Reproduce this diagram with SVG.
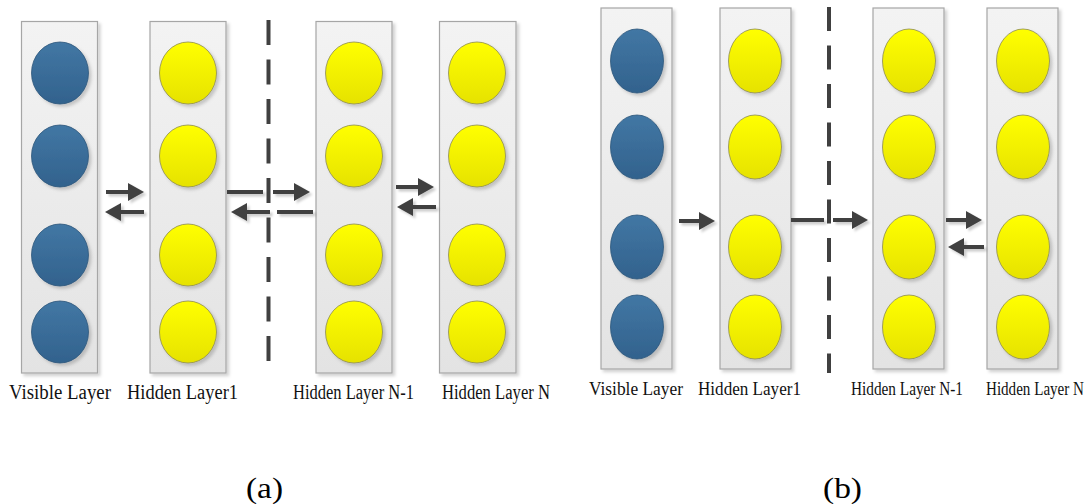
<svg xmlns="http://www.w3.org/2000/svg" width="1092" height="504" viewBox="0 0 1092 504">
  <defs>
    <linearGradient id="gBox" x1="0" y1="0" x2="0" y2="1">
      <stop offset="0" stop-color="#f3f3f3"/>
      <stop offset="1" stop-color="#e3e3e3"/>
    </linearGradient>
    <linearGradient id="gBlue" x1="0" y1="0" x2="0" y2="1">
      <stop offset="0" stop-color="#4277a4"/>
      <stop offset="1" stop-color="#32628d"/>
    </linearGradient>
    <linearGradient id="gYellow" x1="0" y1="0" x2="0" y2="1">
      <stop offset="0" stop-color="#ffff00"/>
      <stop offset="1" stop-color="#e6e200"/>
    </linearGradient>
    <filter id="sh" x="-20%" y="-20%" width="150%" height="150%">
      <feDropShadow dx="2.5" dy="2.5" stdDeviation="1.5" flood-color="#000" flood-opacity="0.18"/>
    </filter>
    <filter id="shl" filterUnits="userSpaceOnUse" x="0" y="0" width="1092" height="504">
      <feDropShadow dx="2.5" dy="2.5" stdDeviation="1.2" flood-color="#000" flood-opacity="0.2"/>
    </filter>
    <marker id="ah" markerUnits="userSpaceOnUse" markerWidth="17" markerHeight="19" refX="3" refY="9" orient="auto">
      <path d="M0,0 L16,9 L0,18 Z" fill="#404040"/>
    </marker>
  </defs>
  <style>
    .box { fill: url(#gBox); stroke: #a6a6a6; stroke-width: 1.2; filter: url(#sh); }
    .blue { fill: url(#gBlue); stroke: #2c557a; stroke-width: 0.8; filter: url(#sh); }
    .yel { fill: url(#gYellow); stroke: #8c8a55; stroke-width: 0.8; filter: url(#sh); }
    .lbl { font-family: "Liberation Serif", "Times New Roman", serif; font-size: 20px; fill: #111; }
    .lblb { font-family: "Liberation Serif", "Times New Roman", serif; font-size: 19px; fill: #111; }
    .cap { font-family: "Liberation Serif", "Times New Roman", serif; font-size: 30px; fill: #000; }
    .ar { stroke: #404040; stroke-width: 4; fill: none; }
    .arm { marker-end: url(#ah); }
    .dash { stroke: #404040; stroke-width: 4; fill: none; }
  </style>

  <rect width="1092" height="504" fill="#ffffff"/>

  <!-- ===== Panel (a) ===== -->
  <g id="a-visible">
    <rect class="box" x="21.5" y="21.5" width="76" height="351.5"/>
    <ellipse class="blue" cx="60" cy="73" rx="28.5" ry="31"/>
    <ellipse class="blue" cx="60" cy="156" rx="28.5" ry="31"/>
    <ellipse class="blue" cx="60" cy="255" rx="28.5" ry="31"/>
    <ellipse class="blue" cx="60" cy="332" rx="28.5" ry="31"/>
    <text class="lbl" x="9" y="399" textLength="102" lengthAdjust="spacingAndGlyphs">Visible Layer</text>
  </g>
  <g id="a-hidden1">
    <rect class="box" x="150" y="21.5" width="76" height="351.5"/>
    <ellipse class="yel" cx="188" cy="73" rx="28.5" ry="31"/>
    <ellipse class="yel" cx="188" cy="156" rx="28.5" ry="31"/>
    <ellipse class="yel" cx="188" cy="255" rx="28.5" ry="31"/>
    <ellipse class="yel" cx="188" cy="332" rx="28.5" ry="31"/>
    <text class="lbl" x="127" y="399" textLength="111" lengthAdjust="spacingAndGlyphs">Hidden Layer1</text>
  </g>
  <g id="a-hiddenN1">
    <rect class="box" x="316" y="21.5" width="76" height="351.5"/>
    <ellipse class="yel" cx="354" cy="73" rx="28.5" ry="31"/>
    <ellipse class="yel" cx="354" cy="156" rx="28.5" ry="31"/>
    <ellipse class="yel" cx="354" cy="255" rx="28.5" ry="31"/>
    <ellipse class="yel" cx="354" cy="332" rx="28.5" ry="31"/>
    <text class="lbl" x="293" y="399" textLength="121" lengthAdjust="spacingAndGlyphs">Hidden Layer N-1</text>
  </g>
  <g id="a-hiddenN">
    <rect class="box" x="439.5" y="21.5" width="76.5" height="351.5"/>
    <ellipse class="yel" cx="477" cy="73" rx="28.5" ry="31"/>
    <ellipse class="yel" cx="477" cy="156" rx="28.5" ry="31"/>
    <ellipse class="yel" cx="477" cy="255" rx="28.5" ry="31"/>
    <ellipse class="yel" cx="477" cy="332" rx="28.5" ry="31"/>
    <text class="lbl" x="442" y="399" textLength="108" lengthAdjust="spacingAndGlyphs">Hidden Layer N</text>
  </g>
  <text class="cap" x="246" y="498" textLength="37" lengthAdjust="spacingAndGlyphs">(a)</text>

  <!-- ===== Panel (b) ===== -->
  <g id="b-visible">
    <rect class="box" x="601" y="8" width="71" height="361"/>
    <ellipse class="blue" cx="637" cy="61" rx="26.5" ry="32"/>
    <ellipse class="blue" cx="637" cy="147" rx="26.5" ry="32"/>
    <ellipse class="blue" cx="637" cy="247" rx="26.5" ry="32"/>
    <ellipse class="blue" cx="637" cy="327" rx="26.5" ry="32"/>
    <text class="lblb" x="589" y="395" textLength="94" lengthAdjust="spacingAndGlyphs">Visible Layer</text>
  </g>
  <g id="b-hidden1">
    <rect class="box" x="720" y="8" width="71" height="361"/>
    <ellipse class="yel" cx="755" cy="61" rx="26.5" ry="32"/>
    <ellipse class="yel" cx="755" cy="147" rx="26.5" ry="32"/>
    <ellipse class="yel" cx="755" cy="247" rx="26.5" ry="32"/>
    <ellipse class="yel" cx="755" cy="327" rx="26.5" ry="32"/>
    <text class="lblb" x="698" y="395" textLength="103" lengthAdjust="spacingAndGlyphs">Hidden Layer1</text>
  </g>
  <g id="b-hiddenN1">
    <rect class="box" x="873" y="8" width="71" height="361"/>
    <ellipse class="yel" cx="909" cy="61" rx="26.5" ry="32"/>
    <ellipse class="yel" cx="909" cy="147" rx="26.5" ry="32"/>
    <ellipse class="yel" cx="909" cy="247" rx="26.5" ry="32"/>
    <ellipse class="yel" cx="909" cy="327" rx="26.5" ry="32"/>
    <text class="lblb" x="851" y="395" textLength="112" lengthAdjust="spacingAndGlyphs">Hidden Layer N-1</text>
  </g>
  <g id="b-hiddenN">
    <rect class="box" x="987" y="8" width="71" height="361"/>
    <ellipse class="yel" cx="1023" cy="61" rx="26.5" ry="32"/>
    <ellipse class="yel" cx="1023" cy="147" rx="26.5" ry="32"/>
    <ellipse class="yel" cx="1023" cy="247" rx="26.5" ry="32"/>
    <ellipse class="yel" cx="1023" cy="327" rx="26.5" ry="32"/>
    <text class="lblb" x="1084" y="395" text-anchor="end" textLength="98" lengthAdjust="spacingAndGlyphs">Hidden Layer N</text>
  </g>
  <text class="cap" x="823" y="498" textLength="39" lengthAdjust="spacingAndGlyphs">(b)</text>

  <!-- ===== Connectors ===== -->
  <g id="connectors">
    <!-- dashed separators -->
    <line class="dash" x1="268.5" y1="20" x2="268.5" y2="362" stroke-dasharray="25 14.5"/>
    <line class="dash" x1="829" y1="7" x2="829" y2="373" stroke-dasharray="24 14.5"/>

    <g filter="url(#shl)">
      <!-- panel (a) -->
      <line class="ar arm" x1="106" y1="192" x2="131" y2="192"/>
      <line class="ar arm" x1="144" y1="212" x2="118" y2="212"/>
      <line class="ar" x1="227" y1="192" x2="263" y2="192"/>
      <line class="ar arm" x1="273" y1="192" x2="297" y2="192"/>
      <line class="ar" x1="277" y1="212" x2="313" y2="212"/>
      <line class="ar arm" x1="270" y1="212" x2="244" y2="212"/>
      <line class="ar arm" x1="396" y1="187" x2="421" y2="187"/>
      <line class="ar arm" x1="436" y1="207" x2="410" y2="207"/>

      <!-- panel (b) -->
      <line class="ar arm" x1="679" y1="221" x2="702" y2="221"/>
      <line class="ar" x1="791" y1="220" x2="824" y2="220"/>
      <line class="ar arm" x1="833" y1="220" x2="855" y2="220"/>
      <line class="ar arm" x1="946" y1="220" x2="969" y2="220"/>
      <line class="ar arm" x1="984" y1="247" x2="961" y2="247"/>
    </g>
  </g>
</svg>
